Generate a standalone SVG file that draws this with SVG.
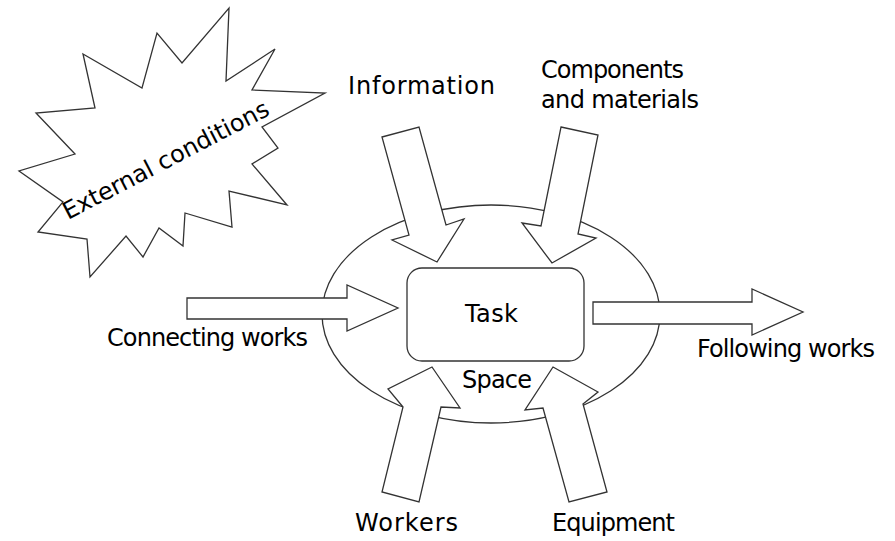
<svg xmlns="http://www.w3.org/2000/svg" width="895" height="541" viewBox="0 0 895 541">
<style>
.sh{fill:#fff;stroke:#333;stroke-width:1.3;stroke-linejoin:miter}
.t{font-family:"DejaVu Sans","Liberation Sans",sans-serif;font-size:24px;fill:#000}
</style>
<rect width="895" height="541" fill="#fff"/>
<g id="external">
<polygon class="sh" points="229,8 226,81 275,49 252,90 325,93 262,127 278,148 252,164 287,205 229,191 232,227 185,213 183,246 159,228 143,257 126,236 90,277 87,239 38,232 63,202 19,171 75,154 36,113 95,108 83,54 142,88 157,33 182,63"/>
<text class="t" x="68" y="220" transform="rotate(-27.5 68 220)" textLength="229">External conditions</text>
</g>
<g id="space">
<ellipse class="sh" cx="491" cy="314" rx="169" ry="109"/>
<text class="t" x="462" y="388" textLength="70">Space</text>
</g>
<g id="task">
<rect class="sh" x="407" y="268" width="177" height="93" rx="15"/>
<text class="t" x="465" y="322" textLength="53">Task</text>
</g>
<g id="connectors">
<polygon class="sh" points="382,137 419,127 446,225 464,219 437,262 392,240 409,235"/>
<polygon class="sh" points="561,127 598,135 578,234 596,238 552,263 522,223 541,226"/>
<polygon class="sh" points="187,298 347,298 347,285 398,308 347,331 347,319 187,319"/>
<polygon class="sh" points="593,302 752,302 752,289 803,312 752,335 752,324 593,324"/>
<polygon class="sh" points="432,367 460,408 441,407 419,502 382,492 403,407 388,389"/>
<polygon class="sh" points="553,367 598,392 583,404 607,492 569,502 543,408 525,410"/>
</g>
<g id="information"><text class="t" x="348" y="94" textLength="147">Information</text></g>
<g id="components">
<text class="t" x="541" y="78" textLength="143">Components</text>
<text class="t" x="541" y="108" textLength="158">and materials</text>
</g>
<g id="connecting"><text class="t" x="107" y="346" textLength="201">Connecting works</text></g>
<g id="following"><text class="t" x="697" y="357" textLength="178">Following works</text></g>
<g id="workers"><text class="t" x="355" y="531" textLength="103">Workers</text></g>
<g id="equipment"><text class="t" x="552" y="531" textLength="123">Equipment</text></g>
</svg>
